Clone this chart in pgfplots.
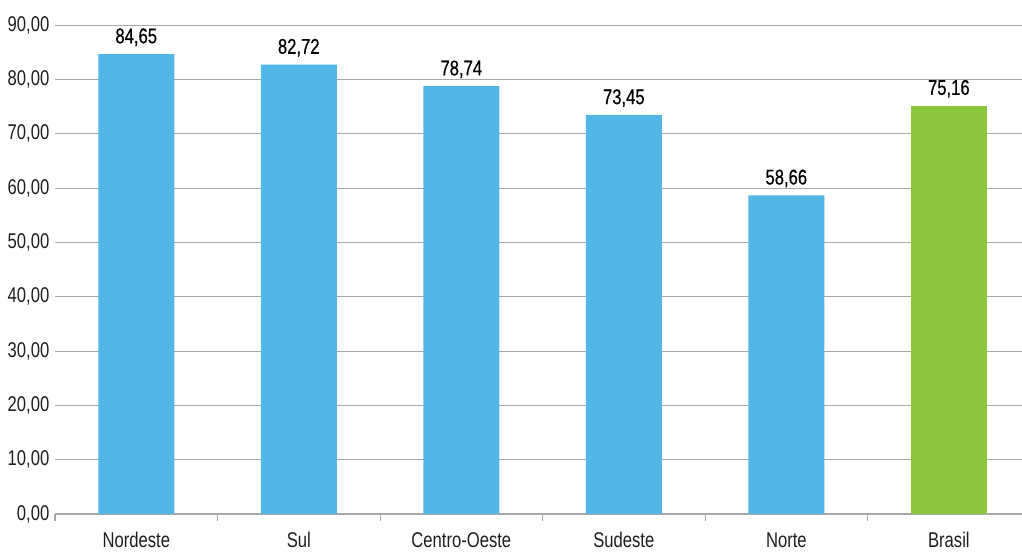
\documentclass[border=0pt]{standalone}
\usepackage{pgfplots}
\pgfplotsset{compat=1.18}
\usepackage{fontspec}
\setmainfont{Liberation Sans}[FakeStretch=0.78]
\newfontfamily\valfont{Liberation Sans}[FakeStretch=0.78, FakeBold=0.5]
\definecolor{barblue}{RGB}{82,182,230}
\definecolor{bargreen}{RGB}{141,198,63}
\definecolor{gridgray}{RGB}{168,168,168}
\definecolor{txt}{RGB}{30,30,30}
\begin{document}
\begin{tikzpicture}
\path[use as bounding box] (-41.25pt,-28.5pt) rectangle (725.25pt,385.5pt);
\begin{axis}[
  scale only axis,
  width=725.25pt, height=366.75pt,
  xmin=-0.5, xmax=5.45,
  ymin=0, ymax=90,
  ytick={0,10,...,90},
  xtick={0,...,5},
  xticklabels={Nordeste,Sul,Centro-Oeste,Sudeste,Norte,Brasil},
  minor xtick={-0.5,0.5,1.5,2.5,3.5,4.5},
  major x tick style={draw=none},
  minor x tick style={draw=gridgray, line width=0.8pt},
  minor tick length=5.5pt,
  tick align=outside,
  ytick style={draw=none},
  separate axis lines,
  axis x line*=bottom,
  x axis line style={draw=gridgray, line width=0.8pt, -},
  y axis line style={draw=none},
  axis y line*=left,
  ymajorgrids,
  grid style={gridgray, line width=0.7pt},
  font=\fontsize{16pt}{18pt}\selectfont,
  ticklabel style={font=\fontsize{16pt}{18pt}\selectfont, text=txt},
  /pgf/number format/fixed,
  /pgf/number format/fixed zerofill,
  /pgf/number format/precision=2,
  /pgf/number format/use comma,
  /pgf/number format/assume math mode=true,
  yticklabel style={xshift=3.5pt},
  xticklabel style={yshift=-6pt},
  ybar, bar width=57pt, bar shift=0pt,
  nodes near coords,
  nodes near coords style={font=\valfont\fontsize{16pt}{18pt}\selectfont, text=black, yshift=2.5pt},
  clip=false,
]
\addplot[fill=barblue, draw=none] coordinates {(0,84.65) (1,82.72) (2,78.74) (3,73.45) (4,58.66)};
\addplot[fill=bargreen, draw=none] coordinates {(5,75.16)};
\end{axis}
\end{tikzpicture}
\end{document}
